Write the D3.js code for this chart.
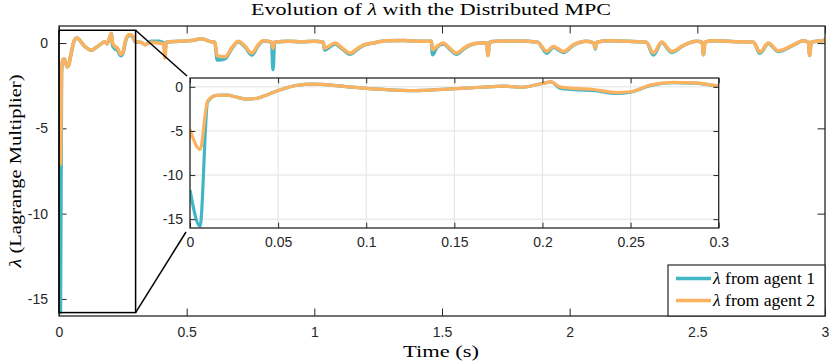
<!DOCTYPE html>
<html><head><meta charset="utf-8">
<script src="https://cdn.jsdelivr.net/npm/d3@7"></script>
<style>body{margin:0;background:#fff;overflow:hidden}</style>
</head><body>
<svg id="c" width="830" height="361"></svg>
<script>
// ---- data ----
const time = [0.000,0.0057,0.0100,0.015,0.021,0.027,0.032,0.038,0.045,0.051,0.060,0.070,0.080,0.090,0.098,0.110,0.127,0.146,0.165,0.178,0.188,0.200,0.205,0.210,0.218,0.229,0.242,0.250,0.261,0.274,0.286,0.300,
0.320,0.337,0.360,0.390,0.410,0.415,0.420,0.470,0.520,0.559,0.590,0.610,0.620,0.650,0.680,0.702,0.730,0.755,0.780,0.800,0.833,0.838,0.844,0.900,0.950,1.000,
1.035,1.040,1.081,1.110,1.140,1.170,1.195,1.230,1.280,1.350,1.420,1.458,1.463,1.480,1.505,1.530,1.557,1.585,1.610,1.650,1.675,1.680,1.686,1.713,1.800,1.875,
1.910,1.936,1.976,2.015,2.067,2.095,2.100,2.106,2.158,2.230,2.300,2.328,2.360,2.400,2.445,2.497,2.519,2.524,2.530,2.563,2.650,2.720,2.745,2.778,2.817,2.876,
2.915,2.935,2.940,2.946,2.967,3.000];
const lambdaAgent1 = [-11.7,-15.8,-1.7,-0.97,-0.94,-1.2,-1.4,-1.3,-0.8,-0.37,0.15,0.3,0.2,0.0,-0.15,-0.3,-0.42,-0.25,-0.05,0.08,-0.05,0.38,0.56,-0.15,-0.32,-0.42,-0.75,-0.62,0.12,0.46,0.43,0.05,
0.05,-0.1,0.1,0.1,0.0,-0.5,0.05,0.1,0.15,0.25,0.1,0.05,-1.0,-0.92,-0.25,0.08,-0.25,-0.7,-0.15,0.12,0.05,-1.57,0.05,0.1,0.08,0.1,
0.05,-0.4,-0.05,-0.35,-0.65,-0.35,-0.12,0.0,0.13,0.15,0.1,0.1,-0.69,-0.25,-0.05,-0.35,-0.65,-0.35,-0.12,0.0,0.0,-0.73,0.05,0.1,0.12,0.05,
-0.6,-0.25,-0.55,-0.12,0.1,0.0,-0.35,0.05,0.13,0.1,0.05,-0.7,0.03,-0.55,-0.15,0.1,0.05,-0.69,0.05,0.13,0.08,0.05,-0.6,-0.02,-0.5,-0.12,
0.13,0.05,-0.73,0.05,0.1,0.17];
const lambdaAgent2 = [-4.8,-7.1,-1.6,-0.97,-0.94,-1.2,-1.4,-1.3,-0.8,-0.37,0.15,0.3,0.2,0.0,-0.15,-0.3,-0.42,-0.25,-0.05,0.08,-0.05,0.38,0.56,0.0,-0.18,-0.3,-0.65,-0.56,0.19,0.5,0.45,0.08,
0.05,-0.1,0.05,0.0,-0.05,-0.88,0.05,0.1,0.15,0.25,0.1,0.05,-0.75,-0.8,-0.2,0.1,-0.2,-0.59,-0.1,0.13,0.05,-0.3,0.05,0.1,0.08,0.1,
0.05,-0.3,0.0,-0.3,-0.59,-0.3,-0.1,0.0,0.13,0.15,0.1,0.1,-0.39,-0.2,0.0,-0.3,-0.59,-0.3,-0.1,0.0,0.0,-0.73,0.05,0.1,0.12,0.05,
-0.49,-0.2,-0.49,-0.1,0.1,0.0,-0.3,0.05,0.13,0.1,0.05,-0.59,0.06,-0.49,-0.14,0.1,0.05,-0.69,0.05,0.13,0.08,0.05,-0.53,0.0,-0.45,-0.1,
0.13,0.05,-0.73,0.05,0.1,0.17];
const seriesNames = ["from agent 1", "from agent 2"];
const seriesColors = ["#41b6c4", "#fdb25f"];
const mainXTicks = [0, 0.5, 1, 1.5, 2, 2.5, 3];
const mainYTicks = [0, -5, -10, -15];
const insetXTicks = [0, 0.05, 0.1, 0.15, 0.2, 0.25, 0.3];
const insetYTicks = [0, -5, -10, -15];
const zoomWindow = {t0: 0, t1: 0.3, v0: -15.8, v1: 0.75};

const series = [lambdaAgent1, lambdaAgent2].map(vals => time.map((t, i) => ({t, v: vals[i]})));

const svg = d3.select("#c");
const axisColor = "#262626";
const sansFont = "'Liberation Sans', Arial, sans-serif";
const serifFont = "'Liberation Serif', 'DejaVu Serif', serif";

// ---- main axes ----
const M = {l: 59, r: 825, t: 26, b: 316};
const x = d3.scaleLinear().domain([0, 3]).range([M.l, M.r]);
const y = d3.scaleLinear().domain([-16, 1]).range([M.b, M.t]);

svg.append("defs").append("clipPath").attr("id", "clipMain")
  .append("rect").attr("x", M.l).attr("y", M.t).attr("width", M.r - M.l).attr("height", M.b - M.t);

const fmt = d => String(d);
function styleAxis(g) {
  g.selectAll("path.domain").remove();
  g.selectAll("line").attr("stroke", axisColor).attr("stroke-width", 1);
  g.selectAll("text").attr("fill", axisColor).attr("font-family", sansFont).attr("font-size", 14);
}
svg.append("g").attr("transform", `translate(0,${M.b})`)
  .call(d3.axisBottom(x).tickValues(mainXTicks).tickFormat(fmt).tickSizeInner(-7.5).tickSizeOuter(0).tickPadding(11)).call(styleAxis);
svg.append("g").attr("transform", `translate(0,${M.t})`)
  .call(d3.axisTop(x).tickValues(mainXTicks).tickFormat("").tickSizeInner(-7.5).tickSizeOuter(0)).call(styleAxis);
svg.append("g").attr("transform", `translate(${M.l},0)`)
  .call(d3.axisLeft(y).tickValues(mainYTicks).tickFormat(fmt).tickSizeInner(-7.5).tickSizeOuter(0).tickPadding(11)).call(styleAxis);
svg.append("g").attr("transform", `translate(${M.r},0)`)
  .call(d3.axisRight(y).tickValues(mainYTicks).tickFormat("").tickSizeInner(-7.5).tickSizeOuter(0)).call(styleAxis);

const lineMain = d3.line().x(d => x(d.t)).y(d => y(d.v)).curve(d3.curveMonotoneX);
const gMain = svg.append("g").attr("clip-path", "url(#clipMain)");
series.forEach((s, i) => {
  gMain.append("path").datum(s).attr("d", lineMain).attr("fill", "none")
    .attr("stroke", seriesColors[i]).attr("stroke-width", 3.5).attr("stroke-linejoin", "round");
});
svg.append("rect").attr("x", M.l).attr("y", M.t).attr("width", M.r - M.l).attr("height", M.b - M.t)
  .attr("fill", "none").attr("stroke", axisColor).attr("stroke-width", 1.3);

// ---- zoom rectangle & connectors ----
const I = {l: 190, r: 718.7, t: 78, b: 228};
const zr = {x0: x(zoomWindow.t0), x1: x(zoomWindow.t1), y0: y(zoomWindow.v1), y1: y(zoomWindow.v0)};
svg.append("rect").attr("x", zr.x0).attr("y", zr.y0).attr("width", zr.x1 - zr.x0).attr("height", zr.y1 - zr.y0)
  .attr("fill", "none").attr("stroke", "#000").attr("stroke-width", 1.5);
svg.append("line").attr("x1", zr.x1).attr("y1", zr.y0).attr("x2", I.l - 3).attr("y2", I.t - 2)
  .attr("stroke", "#000").attr("stroke-width", 1.5);
svg.append("line").attr("x1", zr.x1).attr("y1", zr.y1).attr("x2", I.l - 4).attr("y2", I.b + 4)
  .attr("stroke", "#000").attr("stroke-width", 1.5);

// ---- inset axes ----
const xi = d3.scaleLinear().domain([0, 0.3]).range([I.l, I.r]);
const yi = d3.scaleLinear().domain([-16, 1]).range([I.b, I.t]);
svg.select("defs").append("clipPath").attr("id", "clipInset")
  .append("rect").attr("x", I.l).attr("y", I.t).attr("width", I.r - I.l).attr("height", I.b - I.t);
svg.append("rect").attr("x", I.l).attr("y", I.t).attr("width", I.r - I.l).attr("height", I.b - I.t).attr("fill", "#fff");
const grid = svg.append("g");
grid.selectAll("line.gx").data(insetXTicks).join("line")
  .attr("x1", d => xi(d)).attr("x2", d => xi(d)).attr("y1", I.t).attr("y2", I.b)
  .attr("stroke", "#e3e3e3").attr("stroke-width", 1);
grid.selectAll("line.gy").data(insetYTicks).join("line")
  .attr("x1", I.l).attr("x2", I.r).attr("y1", d => yi(d)).attr("y2", d => yi(d))
  .attr("stroke", "#e3e3e3").attr("stroke-width", 1);

const insetSeries = series.map(s => s.filter(d => d.t <= 0.3 + 1e-9));
const lineInset = d3.line().x(d => xi(d.t)).y(d => yi(d.v)).curve(d3.curveMonotoneX);
const gIn = svg.append("g").attr("clip-path", "url(#clipInset)");
insetSeries.forEach((s, i) => {
  gIn.append("path").datum(s).attr("d", lineInset).attr("fill", "none")
    .attr("stroke", seriesColors[i]).attr("stroke-width", 3.2).attr("stroke-linejoin", "round");
});
svg.append("g").attr("transform", `translate(0,${I.b})`)
  .call(d3.axisBottom(xi).tickValues(insetXTicks).tickFormat(fmt).tickSizeInner(-5.3).tickSizeOuter(0).tickPadding(9)).call(styleAxis);
svg.append("g").attr("transform", `translate(0,${I.t})`)
  .call(d3.axisTop(xi).tickValues(insetXTicks).tickFormat("").tickSizeInner(-5.3).tickSizeOuter(0)).call(styleAxis);
svg.append("g").attr("transform", `translate(${I.l},0)`)
  .call(d3.axisLeft(yi).tickValues(insetYTicks).tickFormat(fmt).tickSizeInner(-5.3).tickSizeOuter(0).tickPadding(7)).call(styleAxis);
svg.append("g").attr("transform", `translate(${I.r},0)`)
  .call(d3.axisRight(yi).tickValues(insetYTicks).tickFormat("").tickSizeInner(-5.3).tickSizeOuter(0)).call(styleAxis);
svg.append("rect").attr("x", I.l).attr("y", I.t).attr("width", I.r - I.l).attr("height", I.b - I.t)
  .attr("fill", "none").attr("stroke", axisColor).attr("stroke-width", 1.3);

// ---- legend ----
const L = {x: 668, y: 265, w: 157, h: 51};
const lg = svg.append("g");
lg.append("rect").attr("x", L.x).attr("y", L.y).attr("width", L.w).attr("height", L.h)
  .attr("fill", "#fff").attr("stroke", axisColor).attr("stroke-width", 1.2);
seriesNames.forEach((name, i) => {
  const yy = L.y + 13.5 + i * 22;
  lg.append("line").attr("x1", L.x + 8).attr("x2", L.x + 43).attr("y1", yy).attr("y2", yy)
    .attr("stroke", seriesColors[i]).attr("stroke-width", 3.5);
  const t = lg.append("text").attr("x", L.x + 45).attr("y", yy + 5).attr("font-family", serifFont)
    .attr("font-size", 16).attr("fill", "#000")
    .attr("textLength", 102).attr("lengthAdjust", "spacingAndGlyphs");
  t.append("tspan").attr("font-style", "italic").text("λ");
  t.append("tspan").text(" " + name);
});

// ---- titles ----
const title = svg.append("text").attr("x", 431).attr("y", 15).attr("text-anchor", "middle")
  .attr("font-family", serifFont).attr("font-size", 17).attr("fill", "#000")
  .attr("textLength", 360).attr("lengthAdjust", "spacingAndGlyphs");
title.append("tspan").text("Evolution of ");
title.append("tspan").attr("font-style", "italic").text("λ");
title.append("tspan").text(" with the Distributed MPC");

svg.append("text").attr("x", 441).attr("y", 357).attr("text-anchor", "middle")
  .attr("font-family", serifFont).attr("font-size", 17).attr("fill", "#000")
  .attr("textLength", 76).attr("lengthAdjust", "spacingAndGlyphs").text("Time (s)");

const yl = svg.append("text").attr("transform", "translate(21,171) rotate(-90)").attr("text-anchor", "middle")
  .attr("font-family", serifFont).attr("font-size", 17).attr("fill", "#000")
  .attr("textLength", 193).attr("lengthAdjust", "spacingAndGlyphs");
yl.append("tspan").attr("font-style", "italic").text("λ");
yl.append("tspan").text(" (Lagrange Multiplier)");
</script>
</body></html>
